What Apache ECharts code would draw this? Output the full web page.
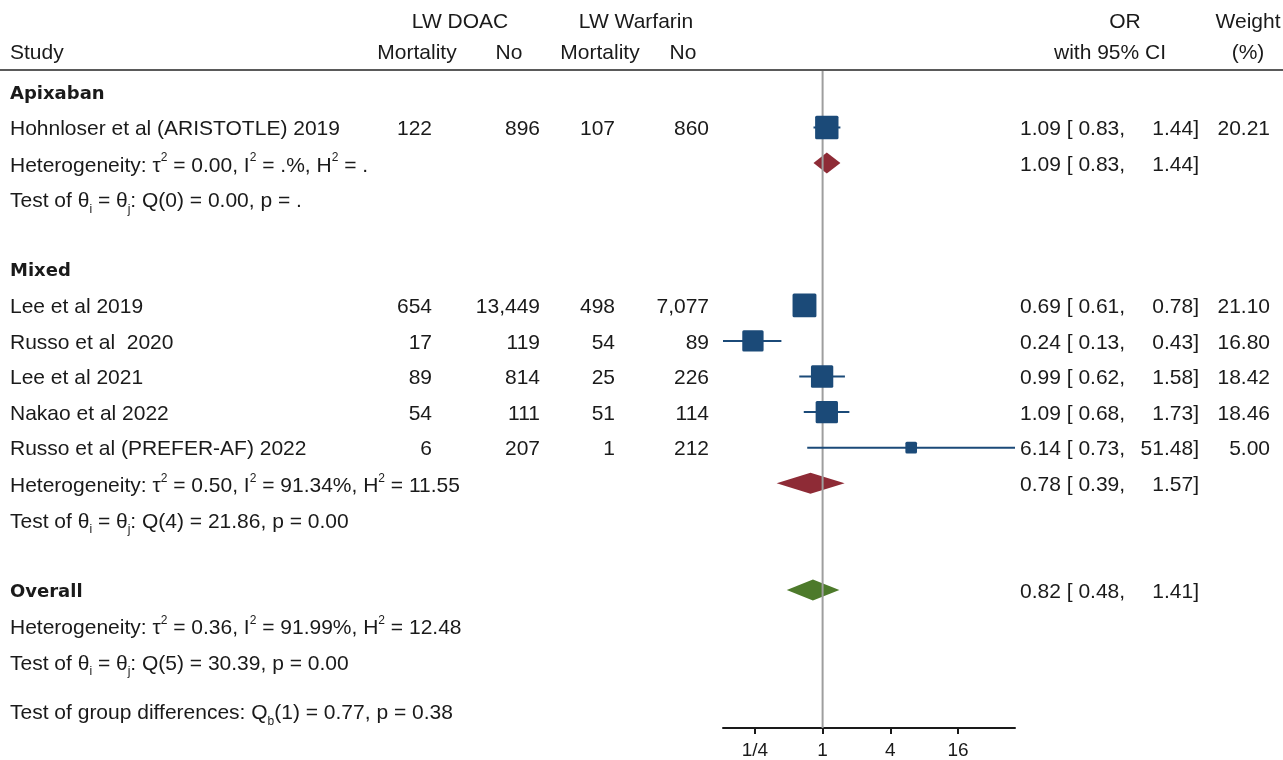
<!DOCTYPE html>
<html>
<head>
<meta charset="utf-8">
<script src="https://cdn.jsdelivr.net/npm/echarts@6/dist/echarts.min.js"></script>
<style>
  html, body { margin: 0; padding: 0; background: #ffffff; }
  #main { width: 1283px; height: 760px; }
</style>
</head>
<body>
<div id="main"></div>
<script>
// ---- Study-level data ----
const studies = [
  'Hohnloser et al (ARISTOTLE) 2019',
  'Lee et al 2019',
  'Russo et al  2020',
  'Lee et al 2021',
  'Nakao et al 2022',
  'Russo et al (PREFER-AF) 2022'
];
const studyGroup = ['Apixaban', 'Mixed', 'Mixed', 'Mixed', 'Mixed', 'Mixed'];
const doacDeaths = [122, 654, 17, 89, 54, 6];
const doacAlive = [896, 13449, 119, 814, 111, 207];
const warfDeaths = [107, 498, 54, 25, 51, 1];
const warfAlive = [860, 7077, 89, 226, 114, 212];
const orEst = [1.09, 0.69, 0.24, 0.99, 1.09, 6.14];
const orLow = [0.83, 0.61, 0.13, 0.62, 0.68, 0.73];
const orHigh = [1.44, 0.78, 0.43, 1.58, 1.73, 51.48];
const weights = [20.21, 21.10, 16.80, 18.42, 18.46, 5.00];

// ---- Subgroup summaries ----
const groups = ['Apixaban', 'Mixed'];
const groupEst = [1.09, 0.78];
const groupLow = [0.83, 0.39];
const groupHigh = [1.44, 1.57];
const groupTau2 = ['0.00', '0.50'];
const groupI2 = ['.%', '91.34%'];
const groupH2 = ['.', '11.55'];
const groupQdf = [0, 4];
const groupQ = ['0.00', '21.86'];
const groupP = ['.', '0.00'];

// ---- Overall summary ----
const overallEst = 0.82, overallLow = 0.48, overallHigh = 1.41;
const overallTau2 = '0.36', overallI2 = '91.99%', overallH2 = '12.48';
const overallQdf = 5, overallQ = '30.39', overallP = '0.00';
const diffQdf = 1, diffQ = '0.77', diffP = '0.38';

// ---- Axis ticks ----
const xTicks = [0.25, 1, 4, 16];
const xTickLabels = ['1/4', '1', '4', '16'];

// ---- Styling ----
const FONT = '"Liberation Sans", Arial, Helvetica, sans-serif';
const BOLD_FONT = '"DejaVu Sans", Verdana, sans-serif';
const TEXT_COLOR = '#1a1a1a';
const BLUE = '#1b4a78';
const RED = '#8e2b36';
const GREEN = '#4d7a2b';
const FS = 21;
const TEXT_DY = 2;

const GRID_LEFT = 723, GRID_RIGHT = 268, GRID_TOP = 70, GRID_BOTTOM = 28;
const Y_MIN = -0.616, Y_MAX = 17.88;

const fmt2 = v => v.toFixed(2);
const fmtInt = v => v.toLocaleString('en-US');

// ---- Build the row layout ----
const rows = [];
let r = 0;
groups.forEach((g, gi) => {
  rows.push({ kind: 'group', y: r++, text: g });
  studies.forEach((s, si) => {
    if (studyGroup[si] === g) rows.push({ kind: 'study', y: r++, i: si });
  });
  rows.push({ kind: 'het', y: r++, tau2: groupTau2[gi], i2: groupI2[gi], h2: groupH2[gi],
              est: groupEst[gi], lo: groupLow[gi], hi: groupHigh[gi], color: RED });
  rows.push({ kind: 'test', y: r++, df: groupQdf[gi], q: groupQ[gi], p: groupP[gi] });
  r++;
});
rows.push({ kind: 'group', y: r++, text: 'Overall', est: overallEst, lo: overallLow, hi: overallHigh, color: GREEN });
rows.push({ kind: 'het', y: r++, tau2: overallTau2, i2: overallI2, h2: overallH2 });
rows.push({ kind: 'test', y: r++, df: overallQdf, q: overallQ, p: overallP });
rows.push({ kind: 'diff', y: r - 1 + 1.38, df: diffQdf, q: diffQ, p: diffP });

const rich = {
  n: { fontFamily: FONT, fontSize: FS, lineHeight: 28, color: TEXT_COLOR },
  sup: { fontFamily: FONT, fontSize: 12, lineHeight: 12, verticalAlign: 'top', color: TEXT_COLOR },
  sub: { fontFamily: FONT, fontSize: 12, lineHeight: 12, verticalAlign: 'bottom', color: TEXT_COLOR }
};

function txt(x, y, text, align, extra) {
  return {
    type: 'text',
    style: Object.assign({
      x: x, y: y + TEXT_DY, text: text, align: align || 'left', verticalAlign: 'middle',
      font: FS + 'px ' + FONT, fill: TEXT_COLOR
    }, extra || {})
  };
}
function richTxt(x, y, text) {
  return {
    type: 'text',
    style: { x: x, y: y + TEXT_DY + 1, text: text, align: 'left', verticalAlign: 'middle', rich: rich,
             font: FS + 'px ' + FONT, fill: TEXT_COLOR }
  };
}
function orText(y, est, lo, hi) {
  return [
    txt(1020, y, fmt2(est) + ' [ ' + fmt2(lo) + ','),
    txt(1199, y, fmt2(hi) + ']', 'right')
  ];
}

// Study markers: CI line plus weight-scaled square
const studyData = studies.map((s, i) => {
  const row = rows.find(rw => rw.kind === 'study' && rw.i === i);
  return [orEst[i], orLow[i], orHigh[i], row.y, weights[i]];
});
// Pooled diamonds
const diamondRows = rows.filter(rw => rw.est !== undefined);
const diamondData = diamondRows.map(rw => [rw.est, rw.lo, rw.hi, rw.y]);

const chart = echarts.init(document.getElementById('main'), null, { renderer: 'canvas' });

chart.setOption({
  animation: false,
  backgroundColor: '#ffffff',
  grid: { left: GRID_LEFT, right: GRID_RIGHT, top: GRID_TOP, bottom: GRID_BOTTOM, containLabel: false },
  xAxis: {
    type: 'log',
    logBase: 2,
    position: 'bottom',
    min: Math.min(...orLow),
    max: Math.max(...orHigh),
    splitLine: { show: false },
    axisLine: { show: true, onZero: false, lineStyle: { color: '#1a1a1a', width: 2 } },
    axisTick: { show: true, customValues: xTicks, length: 6, inside: false, lineStyle: { color: '#1a1a1a', width: 2 } },
    axisLabel: {
      customValues: xTicks,
      formatter: v => { const k = xTicks.findIndex(t => Math.abs(t - v) < 1e-9); return k >= 0 ? xTickLabels[k] : ''; },
      fontFamily: FONT, fontSize: 19, color: TEXT_COLOR, margin: 13
    }
  },
  yAxis: { type: 'value', inverse: true, min: Y_MIN, max: Y_MAX, show: false },
  graphic: [
    { type: 'line', shape: { x1: 0, y1: GRID_TOP, x2: 1283, y2: GRID_TOP }, style: { stroke: '#5a5a5a', lineWidth: 2 }, z: 10 }
  ],
  series: [
    {
      // pooled estimates
      type: 'custom', name: 'pooled', z: 2,
      coordinateSystem: 'cartesian2d',
      encode: { x: [0, 1, 2], y: 3 },
      data: diamondData,
      renderItem: (params, api) => {
        const y = api.value(3);
        const pe = api.coord([api.value(0), y]);
        const pl = api.coord([api.value(1), y]);
        const ph = api.coord([api.value(2), y]);
        const h = 10.5;
        return {
          type: 'polygon',
          shape: { points: [[pl[0], pe[1]], [pe[0], pe[1] - h], [ph[0], pe[1]], [pe[0], pe[1] + h]] },
          style: { fill: diamondRows[params.dataIndex].color }
        };
      }
    },
    {
      // null-effect reference line at OR = 1
      type: 'custom', name: 'ref', z: 3,
      coordinateSystem: 'cartesian2d',
      data: [[1, Y_MIN]],
      renderItem: (params, api) => {
        const a = api.coord([1, Y_MIN]);
        const b = api.coord([1, Y_MAX]);
        return { type: 'line', shape: { x1: a[0], y1: a[1], x2: b[0], y2: b[1] }, style: { stroke: '#9e9e9e', lineWidth: 2 } };
      }
    },
    {
      // individual studies
      type: 'custom', name: 'studies', z: 4,
      coordinateSystem: 'cartesian2d',
      encode: { x: [0, 1, 2], y: 3 },
      data: studyData,
      renderItem: (params, api) => {
        const y = api.value(3);
        const pe = api.coord([api.value(0), y]);
        const pl = api.coord([api.value(1), y]);
        const ph = api.coord([api.value(2), y]);
        const side = 5.2 * Math.sqrt(api.value(4));
        return {
          type: 'group',
          children: [
            { type: 'line', shape: { x1: pl[0], y1: pl[1], x2: ph[0], y2: ph[1] }, style: { stroke: BLUE, lineWidth: 2 } },
            { type: 'rect', shape: { x: pe[0] - side / 2, y: pe[1] - side / 2, width: side, height: side, r: 1.5 }, style: { fill: BLUE } }
          ]
        };
      }
    },
    {
      // table text
      type: 'custom', name: 'table', z: 5, clip: false,
      coordinateSystem: 'cartesian2d',
      encode: { x: 0, y: 1 },
      data: rows.map(rw => [1, rw.y]),
      renderItem: (params, api) => {
        const rw = rows[params.dataIndex];
        const y = api.coord([1, rw.y])[1];
        const ch = [];
        if (params.dataIndex === 0) {
          const top = api.coord([1, Y_MIN])[1];
          const h1 = top - 50, h2 = top - 19;
          ch.push(txt(460, h1, 'LW DOAC', 'center'));
          ch.push(txt(636, h1, 'LW Warfarin', 'center'));
          ch.push(txt(1125, h1, 'OR', 'center'));
          ch.push(txt(1248, h1, 'Weight', 'center'));
          ch.push(txt(10, h2, 'Study'));
          ch.push(txt(417, h2, 'Mortality', 'center'));
          ch.push(txt(509, h2, 'No', 'center'));
          ch.push(txt(600, h2, 'Mortality', 'center'));
          ch.push(txt(683, h2, 'No', 'center'));
          ch.push(txt(1110, h2, 'with 95% CI', 'center'));
          ch.push(txt(1248, h2, '(%)', 'center'));
        }
        if (rw.kind === 'group') {
          ch.push(txt(10, y, rw.text, 'left', { font: 'bold 18px ' + BOLD_FONT }));
          if (rw.est !== undefined) ch.push(...orText(y, rw.est, rw.lo, rw.hi));
        } else if (rw.kind === 'study') {
          const i = rw.i;
          ch.push(txt(10, y, studies[i]));
          ch.push(txt(432, y, fmtInt(doacDeaths[i]), 'right'));
          ch.push(txt(540, y, fmtInt(doacAlive[i]), 'right'));
          ch.push(txt(615, y, fmtInt(warfDeaths[i]), 'right'));
          ch.push(txt(709, y, fmtInt(warfAlive[i]), 'right'));
          ch.push(...orText(y, orEst[i], orLow[i], orHigh[i]));
          ch.push(txt(1270, y, fmt2(weights[i]), 'right'));
        } else if (rw.kind === 'het') {
          ch.push(richTxt(10, y, '{n|Heterogeneity: τ}{sup|2}{n| = ' + rw.tau2 + ', I}{sup|2}{n| = ' + rw.i2 + ', H}{sup|2}{n| = ' + rw.h2 + '}'));
          if (rw.est !== undefined) ch.push(...orText(y, rw.est, rw.lo, rw.hi));
        } else if (rw.kind === 'test') {
          ch.push(richTxt(10, y, '{n|Test of θ}{sub|i}{n| = θ}{sub|j}{n|: Q(' + rw.df + ') = ' + rw.q + ', p = ' + rw.p + '}'));
        } else if (rw.kind === 'diff') {
          ch.push(richTxt(10, y, '{n|Test of group differences: Q}{sub|b}{n|(' + rw.df + ') = ' + rw.q + ', p = ' + rw.p + '}'));
        }
        return { type: 'group', children: ch };
      }
    }
  ]
});
</script>
</body>
</html>
